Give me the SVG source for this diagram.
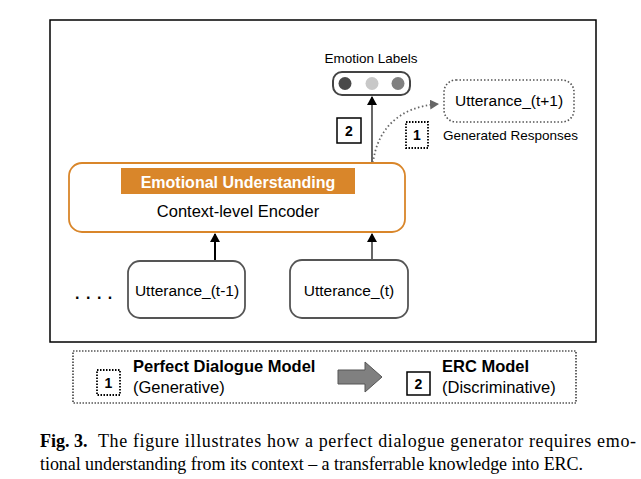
<svg xmlns="http://www.w3.org/2000/svg" width="641" height="479" viewBox="0 0 641 479">
<defs>
<style>
.sans{font-family:"Liberation Sans",Arial,sans-serif;}
.serif{font-family:"Liberation Serif","Times New Roman",serif;}
.utt{fill:#fff;stroke:#555;stroke-width:1.8;}
.lbl{font-size:15.5px;fill:#000;}
</style>
<marker id="ah" markerWidth="10" markerHeight="10" refX="8" refY="5" orient="auto" markerUnits="userSpaceOnUse">
<path d="M0,0 L9,5 L0,10 z" fill="#000"/>
</marker>
<marker id="ahg" markerWidth="10" markerHeight="10" refX="8" refY="5" orient="auto" markerUnits="userSpaceOnUse">
<path d="M0,0 L9,5 L0,10 z" fill="#666"/>
</marker>
</defs>
<rect width="641" height="479" fill="#fff"/>
<rect id="frame" x="50" y="20" width="546" height="322" fill="none" stroke="#000" stroke-width="1.5"/>

<g id="connectors">
<line x1="215" y1="261" x2="215" y2="234" stroke="#000" stroke-width="2" marker-end="url(#ah)"/>
<line x1="372" y1="260" x2="372" y2="234" stroke="#000" stroke-width="1.2" marker-end="url(#ah)"/>
<line x1="372" y1="163" x2="372" y2="97" stroke="#000" stroke-width="1.2" marker-end="url(#ah)"/>
<path d="M373,163 C377,130 398,107 438,104" fill="none" stroke="#666" stroke-width="1.8" stroke-dasharray="1.5,2.5" marker-end="url(#ahg)"/>
</g>

<g id="emotion-labels">
<text x="371" y="63" text-anchor="middle" class="sans" font-size="13.5">Emotion Labels</text>
<rect x="333" y="72" width="77" height="23" rx="9" fill="#fff" stroke="#444" stroke-width="2"/>
<circle cx="345" cy="83.5" r="6.5" fill="#4a4a4a"/>
<circle cx="372" cy="83.5" r="6.5" fill="#c8c8c8"/>
<circle cx="398" cy="83.5" r="6.5" fill="#808080"/>
</g>

<g id="step2-top">
<rect x="337" y="118" width="24" height="25" fill="#fff" stroke="#000" stroke-width="1.5"/>
<text x="349" y="136" text-anchor="middle" class="sans" font-size="14" font-weight="bold">2</text>
</g>

<g id="step1-top">
<rect x="406" y="122" width="22" height="26" fill="#fff" stroke="#000" stroke-width="1.8" stroke-dasharray="1.5,1.5"/>
<text x="417" y="140" text-anchor="middle" class="sans" font-size="14" font-weight="bold">1</text>
</g>

<g id="utterance-next">
<rect x="444" y="80" width="130" height="42" rx="12" fill="#fff" stroke="#555" stroke-width="1.6" stroke-dasharray="1.5,2"/>
<text x="509" y="106" text-anchor="middle" class="sans lbl">Utterance_(t+1)</text>
<text x="443" y="140" class="sans" font-size="13.5">Generated Responses</text>
</g>

<g id="encoder">
<rect x="69" y="163" width="336" height="69" rx="13" fill="#fff" stroke="#D9862A" stroke-width="1.8"/>
<rect x="121" y="168" width="234" height="26" fill="#D9862A"/>
<text x="238" y="188" text-anchor="middle" class="sans" font-size="16" font-weight="bold" fill="#fff">Emotional Understanding</text>
<text x="238" y="217" text-anchor="middle" class="sans" font-size="16.5">Context-level Encoder</text>
</g>

<g id="dots">
<text x="75" y="299" class="sans" font-size="16" font-weight="bold" letter-spacing="6.5">....</text>
</g>

<g id="utterance-prev">
<rect class="utt" x="128" y="261" width="117" height="57" rx="12"/>
<text x="187" y="296" text-anchor="middle" class="sans lbl">Utterance_(t-1)</text>
</g>

<g id="utterance-cur">
<rect class="utt" x="290" y="260" width="118" height="58" rx="12"/>
<text x="349" y="296" text-anchor="middle" class="sans lbl">Utterance_(t)</text>
</g>

<g id="legend">
<rect x="73" y="351" width="503" height="52" fill="none" stroke="#000" stroke-width="1.2" stroke-dasharray="1.5,1.5"/>
<rect x="97" y="370" width="23" height="25" fill="#fff" stroke="#000" stroke-width="1.8" stroke-dasharray="1.5,1.5"/>
<text x="108.5" y="388" text-anchor="middle" class="sans" font-size="14" font-weight="bold">1</text>
<text x="133" y="372" class="sans" font-size="16.5" font-weight="bold">Perfect Dialogue Model</text>
<text x="133" y="393" class="sans" font-size="16.5">(Generative)</text>
<path d="M338,370 L365,370 L365,362 L382,377 L365,392 L365,384 L338,384 z" fill="#808080" stroke="#555" stroke-width="1"/>
<rect x="407" y="372" width="23" height="23" fill="#fff" stroke="#000" stroke-width="1.5"/>
<text x="418.5" y="389" text-anchor="middle" class="sans" font-size="14" font-weight="bold">2</text>
<text x="442" y="372" class="sans" font-size="16.5" font-weight="bold">ERC Model</text>
<text x="442" y="393" class="sans" font-size="16.5">(Discriminative)</text>
</g>

<g id="caption" class="serif" font-size="18">
<text x="40" y="447"><tspan font-weight="bold">Fig. 3.</tspan></text>
<text x="98" y="447" textLength="538" lengthAdjust="spacing">The figure illustrates how a perfect dialogue generator requires emo-</text>
<text x="40" y="470" textLength="543" lengthAdjust="spacing">tional understanding from its context – a transferrable knowledge into ERC.</text>
</g>
</svg>
